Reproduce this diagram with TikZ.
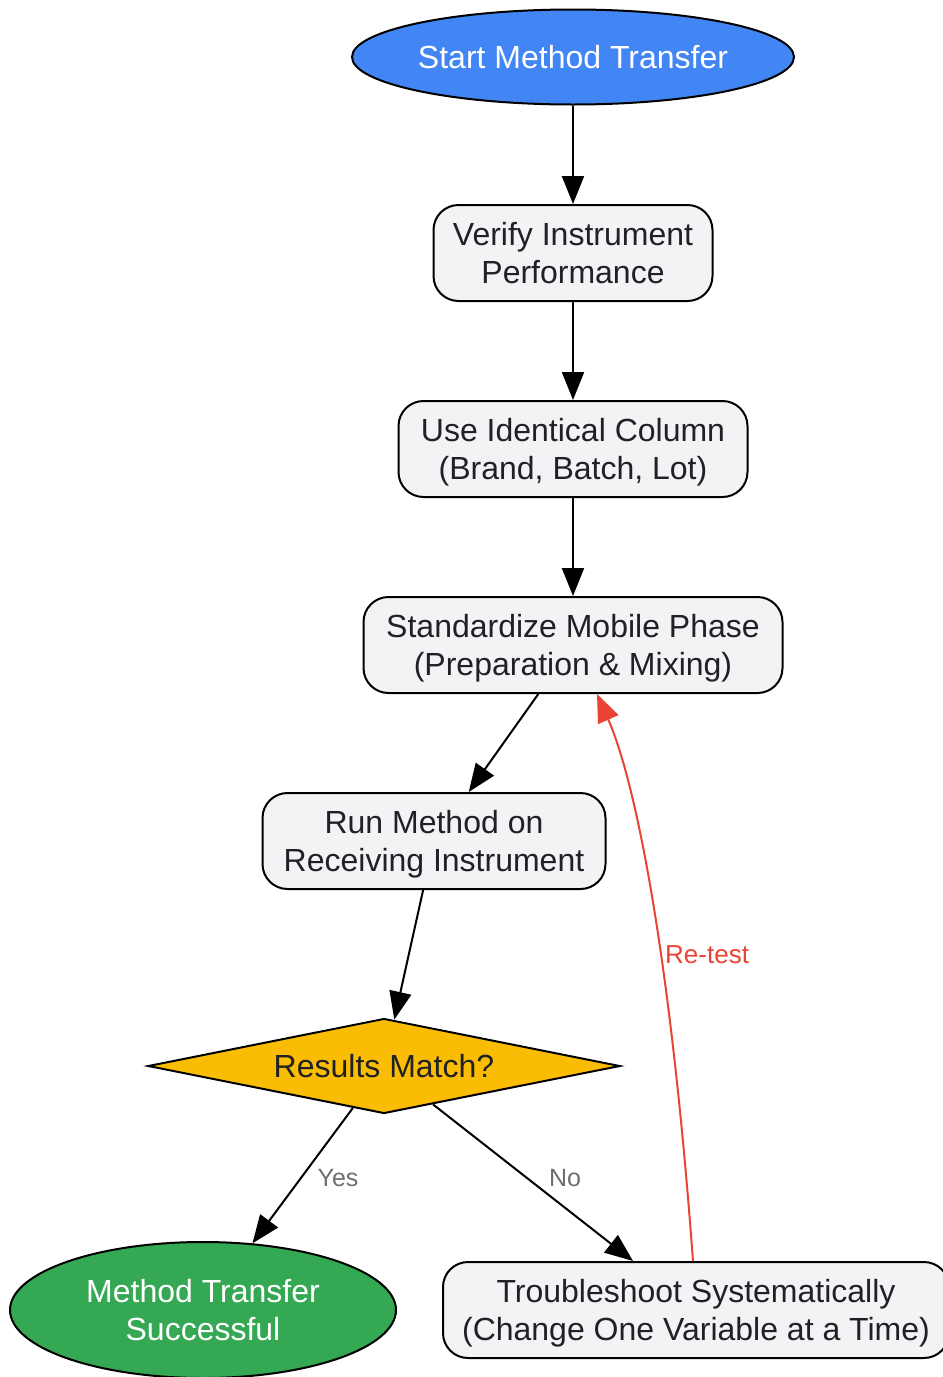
\documentclass[tikz,border=0pt]{standalone}
\usepackage{fontspec}
\setmainfont{Liberation Sans}
\usetikzlibrary{shapes.geometric,arrows.meta}
\definecolor{gblue}{HTML}{4285F4}
\definecolor{ggreen}{HTML}{34A853}
\definecolor{gyellow}{HTML}{FBBC04}
\definecolor{gfill}{HTML}{F1F3F4}
\definecolor{gtext}{HTML}{202124}
\definecolor{glabel}{HTML}{6B6F73}
\definecolor{gred}{HTML}{EA4335}
\tikzset{
  base/.style={draw=black, line width=2pt, align=center, inner sep=0pt, text depth=0pt, font=\fontsize{32}{38}\selectfont},
  stepbox/.style={base, rounded corners=25pt, fill=gfill, text=gtext, minimum height=96pt},
  term/.style={base, ellipse, text=white},
  decide/.style={base, diamond, fill=gyellow, text=gtext, aspect=4.97, minimum width=472pt, minimum height=95pt},
  conn/.style={draw=black, line width=2pt, -{Triangle[length=28pt,width=22pt]}},
  elabel/.style={font=\fontsize{25}{30}\selectfont, text=glabel, inner sep=0pt}
}
\begin{document}
\begin{tikzpicture}[x=1pt,y=-1pt]
\useasboundingbox (0,0) rectangle (943,1377);
\node[term, fill=gblue, minimum width=442pt, minimum height=95pt] (start) at (573,57) {Start Method Transfer};
\node[stepbox, minimum width=279pt] (verify) at (573,253) {Verify Instrument\\Performance};
\node[stepbox, minimum width=349pt] (column) at (573,449) {Use Identical Column\\(Brand, Batch, Lot)};
\node[stepbox, minimum width=419pt] (mobile) at (573,645) {Standardize Mobile Phase\\(Preparation \& Mixing)};
\node[stepbox, minimum width=343pt] (run) at (434,841) {Run Method on\\Receiving Instrument};
\node[decide] (match) at (384,1066) {Results Match?};
\node[term, fill=ggreen, minimum width=386pt, minimum height=136pt] (success) at (203,1310) {Method Transfer\\Successful};
\node[stepbox, minimum width=506pt] (trouble) at (696,1310) {Troubleshoot Systematically\\(Change One Variable at a Time)};

\draw[conn] (start) -- (verify);
\draw[conn] (verify) -- (column);
\draw[conn] (column) -- (mobile);
\draw[conn] (mobile) -- (run);
\draw[conn] (run) -- (match);
\draw[conn] (match) -- (trouble.north west -| {(633,0)});
\draw[conn] (match) -- (success);
\draw[line width=2pt, draw=gred, -{Triangle[length=28pt,width=22pt]}]
  ([xshift=-3pt]trouble.north) .. controls (670,950) and (635,780) .. ([xshift=24pt]mobile.south);

\node[elabel] (yes) at (338,1178) {Yes};
\node[elabel] (no) at (565,1178) {No};
\node[elabel, text=gred, anchor=west, font=\fontsize{26}{30}\selectfont] (retest) at (665,955) {Re-test};
\end{tikzpicture}
\end{document}
